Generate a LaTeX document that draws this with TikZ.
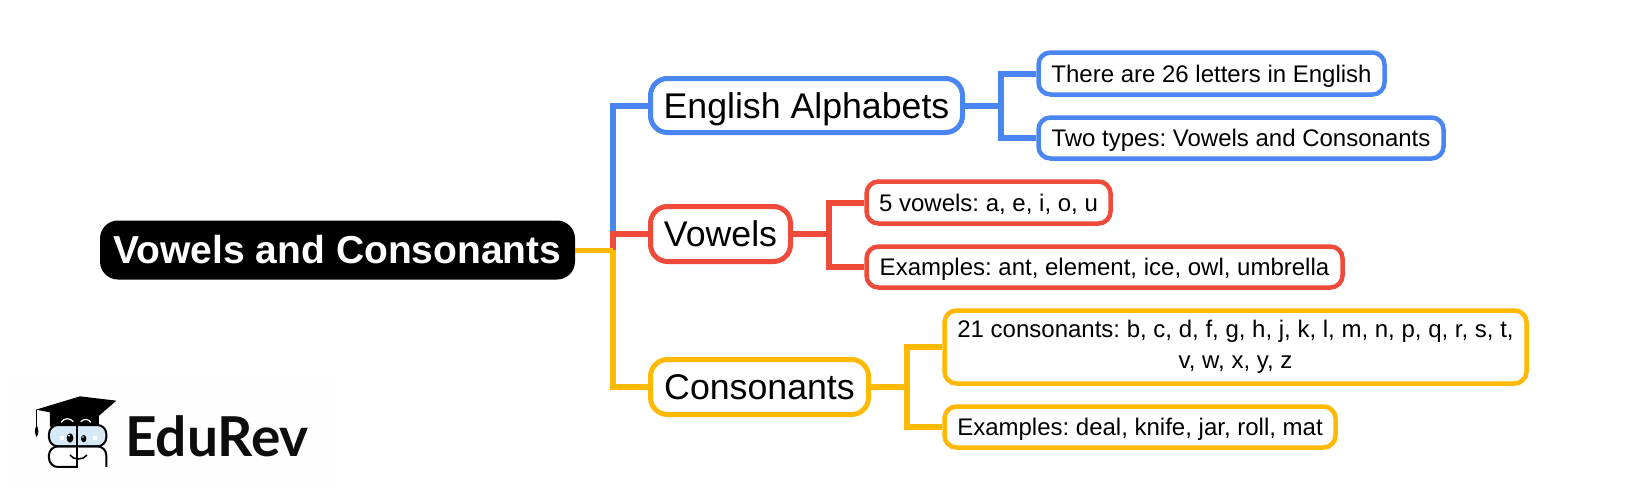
\documentclass[tikz,border=0pt]{standalone}
\usepackage{fontspec}
\setmainfont{Liberation Sans}
\newfontfamily\logofont{Lato}
\definecolor{cblue}{HTML}{4A86F2}
\definecolor{cred}{HTML}{EF4A3A}
\definecolor{cyel}{HTML}{FFB900}
\definecolor{cglass}{HTML}{D6E9F6}
\definecolor{cwash}{HTML}{FEFEFE}
\tikzset{
  mainbox/.style={draw,line width=5pt,fill=white,rounded corners=17pt,inner sep=0pt,text=black,
    font=\frenchspacing\fontsize{35.7}{44}\selectfont,text height=30pt,text depth=5pt},
  leafbox/.style={draw,line width=4.5pt,fill=white,rounded corners=12pt,inner sep=0pt,text=black,align=center,
    font=\frenchspacing\fontsize{24}{32}\selectfont},
  oneline/.style={text height=18pt,text depth=1pt},
  rootbox/.style={fill=black,rounded corners=18pt,inner sep=0pt,text=white,
    font=\frenchspacing\fontsize{39}{44}\selectfont\bfseries,text height=32pt,text depth=5pt},
  stem/.style={line width=6pt},
  thinstem/.style={line width=5pt},
  logoline/.style={line width=2pt}
}
\begin{document}
\begin{tikzpicture}[x=1pt,y=-1pt]
\useasboundingbox (0,0) rectangle (1630,501);
\fill[white] (0,0) rectangle (1630,501);
% logo
\fill[cwash] (10,375) rectangle (333,488);
\begin{scope}[shift={(25,385)},x=0.3333pt,y=-0.3333pt]
  \draw[line width=1.5pt] (35,75) -- (35,125);
  \fill (35,120) .. controls (27,135) and (29,145) .. (35,156) .. controls (41,145) and (43,135) .. (35,120) -- cycle;
  \fill (75,80) -- (75,125) -- (222,125) -- (222,85) -- cycle;
  \fill (33,74) -- (165,34) -- (274,47) -- (205,107) -- cycle;
  \draw[white,line width=1.2pt] (108,112) .. controls (118,98) and (135,98) .. (145,110);
  \draw[white,line width=1.2pt] (167,110) .. controls (178,100) and (190,102) .. (198,112);
  \draw[logoline,fill=cglass,rounded corners=9pt] (72,120) rectangle (244,184);
  \draw[logoline,rounded corners=9pt] (156,184) -- (72,184) -- (72,246) -- (156,246);
  \draw[logoline,rounded corners=9pt] (162,184) -- (244,184) -- (244,246);
  \draw[logoline] (156,118) -- (156,248);
  \fill (135,159) ellipse [x radius=10,y radius=14];
  \fill (176,161) ellipse [x radius=8,y radius=11];
  \fill[white] (132,152) circle (3);
  \fill[white] (174,156) circle (2.5);
  \fill[white] (104,154) rectangle (116,164);
  \fill[white] (204,154) rectangle (216,164);
  \draw[line width=1.5pt] (135,210) .. controls (145,226) and (175,226) .. (186,210);
\end{scope}
\node[anchor=base west,font=\logofont\bfseries\fontsize{55}{55}\selectfont,text=black!95,inner sep=0pt] (brand) at (125,456) {EduRev};
% nodes
\node[rootbox,minimum width=475pt,minimum height=59pt] (root) at (337.5,250) {Vowels and Consonants};
\node[mainbox,draw=cblue,minimum width=312pt,minimum height=54pt] (eng) at (806.5,105.5) {English Alphabets};
\node[mainbox,draw=cred,minimum width=140pt,minimum height=55pt] (vow) at (720.5,234) {Vowels};
\node[mainbox,draw=cyel,minimum width=218pt,minimum height=55pt] (con) at (759.5,387) {Consonants};
\node[leafbox,oneline,draw=cblue,minimum width=346pt,minimum height=42pt] (e1) at (1211.5,73.5) {There are 26 letters in English};
\node[leafbox,oneline,draw=cblue,minimum width=405pt,minimum height=41pt] (e2) at (1241,138) {Two types: Vowels and Consonants};
\node[leafbox,oneline,draw=cred,minimum width=244pt,minimum height=42pt] (v1) at (988.5,202.5) {5 vowels: a, e, i, o, u};
\node[leafbox,oneline,draw=cred,minimum width=476pt,minimum height=41pt] (v2) at (1104.5,267) {Examples: ant, element, ice, owl, umbrella};
\node[leafbox,draw=cyel,minimum width=582pt,minimum height=73pt] (c1) at (1235.5,347) {\raisebox{-1pt}{21 consonants: b, c, d, f, g, h, j, k, l, m, n, p, q, r, s, t,}\\[-1pt]\raisebox{-1pt}{v, w, x, y, z}};
\node[leafbox,oneline,draw=cyel,minimum width=391pt,minimum height=41pt] (c2) at (1140,427) {Examples: deal, knife, jar, roll, mat};
% connector junctions
\coordinate (hub) at (612.5,250);
\coordinate (je) at (1001,105.5);
\coordinate (jv) at (829,234);
\coordinate (jc) at (907,387);
% connectors
\draw[stem,cblue] (eng.west) -| (hub);
\draw[stem,cred] (vow.west) -| (hub);
\draw[stem,cyel] (con.west) -| (hub);
\draw[thinstem,cyel] (root.east) -- (hub);
\draw[stem,cblue] (eng.east) -- (je);
\draw[stem,cblue] (e1.west) -| (je) |- (e2.west);
\draw[stem,cred] (vow.east) -- (jv);
\draw[stem,cred] (v1.west) -| (jv) |- (v2.west);
\draw[stem,cyel] (con.east) -- (jc);
\draw[stem,cyel] (c1.west) -| (jc) |- (c2.west);
\end{tikzpicture}
\end{document}
